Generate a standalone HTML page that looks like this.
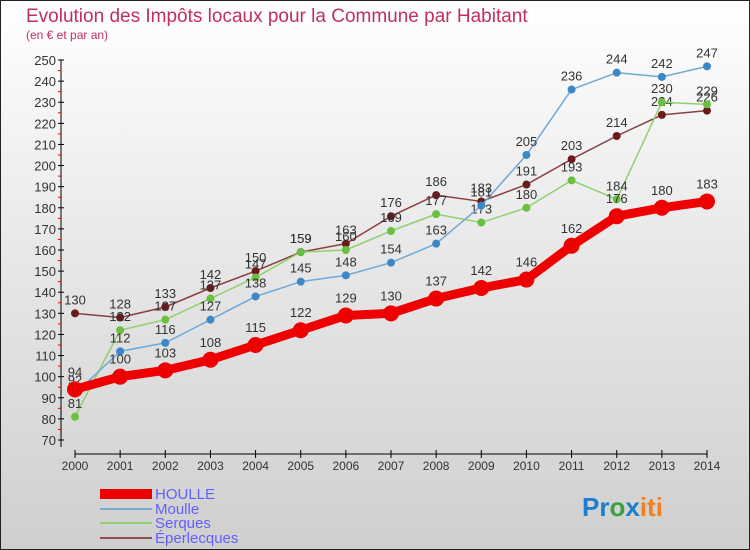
<!DOCTYPE html>
<html><head><meta charset="utf-8"><style>
body{margin:0;width:750px;height:550px;overflow:hidden;font-family:"Liberation Sans",sans-serif}
#wrap{position:absolute;left:0;top:0;width:748px;height:548px;border:1px solid #222;background:linear-gradient(#ffffff,#e6e6e6 50%,#cfcfcf)}
</style></head><body>
<div id="wrap">
<svg id="c" width="750" height="550" style="position:absolute;left:-1px;top:-1px">
<text x="26" y="22" font-size="19" fill="#c0305a">Evolution des Impôts locaux pour la Commune par Habitant</text>
<text x="26" y="39" font-size="12" fill="#c0305a">(en € et par an)</text>
<g id="axes"></g><g id="series"></g>
<g>
<rect x="100" y="489" width="52" height="10" fill="#e00"/>
<text x="155" y="499" font-size="15" fill="#6060ff">HOULLE</text>
<line x1="100" y1="509" x2="152" y2="509" stroke="#7aaad0" stroke-width="2"/>
<text x="155" y="514" font-size="15" fill="#6060ff">Moulle</text>
<line x1="100" y1="523" x2="152" y2="523" stroke="#90d070" stroke-width="2"/>
<text x="155" y="528" font-size="15" fill="#6060ff">Serques</text>
<line x1="100" y1="538" x2="152" y2="538" stroke="#905050" stroke-width="2"/>
<text x="155" y="543" font-size="15" fill="#6060ff">Éperlecques</text>
</g>
<text x="582" y="516" font-size="26" font-weight="bold"><tspan fill="#1a7fd0">Pr</tspan><tspan fill="#3aa040">o</tspan><tspan fill="#1a7fd0">x</tspan><tspan fill="#f08020">iti</tspan></text>
</svg></div>
<script>
const years=[2000,2001,2002,2003,2004,2005,2006,2007,2008,2009,2010,2011,2012,2013,2014];
const houlle=[94,100,103,108,115,122,129,130,137,142,146,162,176,180,183];
const moulle=[92,112,116,127,138,145,148,154,163,181,205,236,244,242,247];
const serques=[81,122,127,137,147,159,160,169,177,173,180,193,184,230,229];
const eperlecques=[130,128,133,142,150,159,163,176,186,183,191,203,214,224,226];
const yTicks=[70,80,90,100,110,120,130,140,150,160,170,180,190,200,210,220,230,240,250];
const NS="http://www.w3.org/2000/svg";
const x=i=>75+(707-75)*i/(years.length-1);
const y=v=>440-(v-70)*(380/180);
function mk(p,t,a){const e=document.createElementNS(NS,t);for(const k in a)e.setAttribute(k,a[k]);p.appendChild(e);return e;}
const ax=document.getElementById('axes'),sg=document.getElementById('series');
const yl=mk(ax,'line',{x1:61,y1:y(250),x2:61,y2:447,stroke:'#000'});


yTicks.forEach(v=>{
 mk(ax,'line',{x1:58,x2:64,y1:y(v),y2:y(v),stroke:'#000'});
 if(v<250)mk(ax,'line',{x1:58,x2:61,y1:y(v+5),y2:y(v+5),stroke:'#e00'});
 const t=mk(ax,'text',{x:56,y:y(v)+5,'font-size':13,'text-anchor':'end',fill:'#333'});
 
 
 t.textContent=v;
});
const xl=mk(ax,'line',{x1:75,y1:454,x2:707,y2:454,stroke:'#000'});


years.forEach((yr,i)=>{
 mk(ax,'line',{x1:x(i),x2:x(i),y1:450,y2:458,stroke:'#000'});
 const t=mk(ax,'text',{x:x(i),y:470,'font-size':12,'text-anchor':'middle',fill:'#333'});
 
 
 t.textContent=yr;
});
function series(d,name,col,dot,w,r){
 const g=mk(sg,'g',{});
 
 
 mk(g,'polyline',{points:d.map((v,i)=>x(i)+','+y(v)).join(' '),fill:'none',stroke:col,'stroke-width':w,'stroke-linejoin':'round'});
 d.forEach((v,i)=>{
  const c=mk(g,'circle',{cx:x(i),cy:y(v),r:r,fill:dot});
  
  
  const t=mk(g,'text',{x:x(i),y:y(v)-9-(r>5?4:0),'font-size':13,'text-anchor':'middle',fill:'#333'});
  
  
  t.textContent=v;
 });
}
series(eperlecques,'eperlecques','#8a4040','#6a1a1a',1.5,4);
series(serques,'serques','#90d070','#6ac040',1.5,4);
series(moulle,'moulle','#70a8d8','#3a88c8',1.5,4);
series(houlle,'houlle','#e00','#e00',9,8);
</script>
</body></html>
